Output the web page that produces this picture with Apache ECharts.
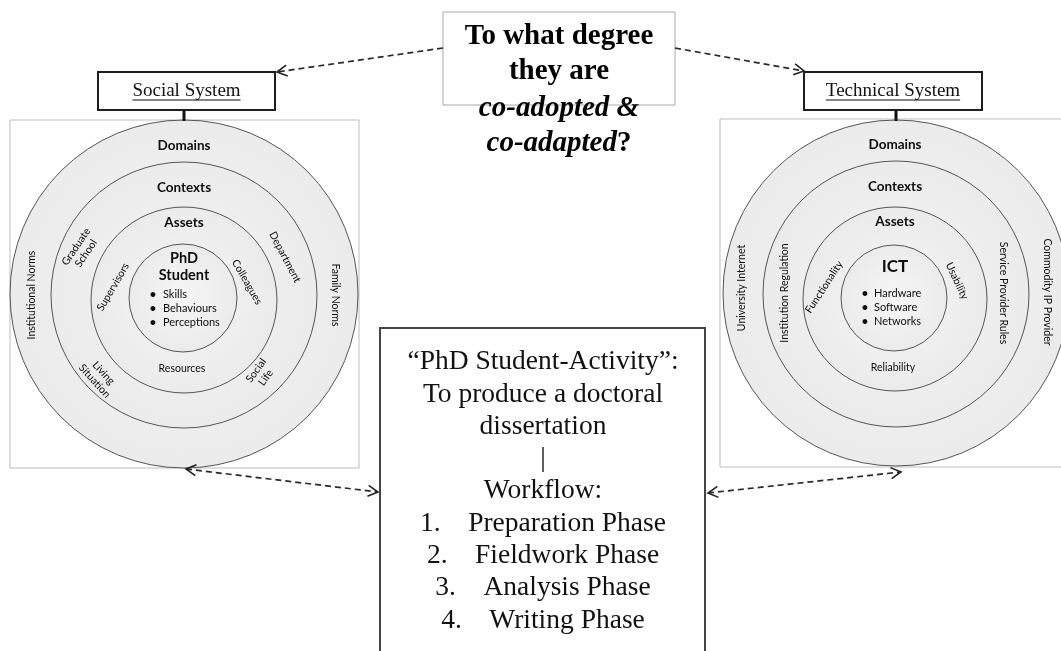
<!DOCTYPE html>
<html><head><meta charset="utf-8">
<script src="https://cdn.jsdelivr.net/npm/echarts@6/dist/echarts.min.js"></script>
<style>html,body{margin:0;padding:0;background:#fff}#c{width:1061px;height:651px}</style>
</head><body><div id="c"></div>
<script>
// ---------- content (texts only) ----------
const questionLines = ['To what degree', 'they are', 'co-adopted &', 'co-adapted'];
const questionMark = '?';
const socialTitle = 'Social System';
const technicalTitle = 'Technical System';
const ringNames = ['Domains', 'Contexts', 'Assets'];
const socialCore = ['PhD', 'Student'];
const socialBullets = ['Skills', 'Behaviours', 'Perceptions'];
const socialDomains = ['Institutional Norms', 'Family Norms'];
const socialContexts = ['Graduate\nSchool', 'Department', 'Living\nSituation', 'Social\nLife'];
const socialAssets = ['Supervisors', 'Colleagues', 'Resources'];
const techCore = ['ICT'];
const techBullets = ['Hardware', 'Software', 'Networks'];
const techDomains = ['University Internet', 'Commodity IP Provider'];
const techContexts = ['Institution Regulation', 'Service Provider Rules'];
const techAssets = ['Functionality', 'Usability', 'Reliability'];
const activityLines = ['\u201CPhD Student-Activity\u201D:', 'To produce a doctoral', 'dissertation', '|', 'Workflow:'];
const phaseNumbers = ['1.', '2.', '3.', '4.'];
const phaseNames = ['Preparation Phase', 'Fieldwork Phase', 'Analysis Phase', 'Writing Phase'];

// ---------- drawing ----------
const chart = echarts.init(document.getElementById('c'), null, {renderer: 'canvas'});
const els = [];
const SERIF = '"Liberation Serif", "Times New Roman", serif';
const SANS = 'Lato, "Open Sans", sans-serif';
const measure = (function () {
  const ctx = document.createElement('canvas').getContext('2d');
  return function (t, font) { ctx.font = font; return ctx.measureText(t).width; };
})();

function text(x, y, str, font, rot, extra) {
  els.push({
    type: 'text', x: x, y: y, rotation: (rot || 0) * Math.PI / 180, silent: true,
    style: Object.assign({text: str, x: 0, y: 0, font: font, fill: '#0d0d0d', align: 'center', verticalAlign: 'middle'}, extra || {})
  });
}
function rect(x, y, w, h, stroke, lw, fill) {
  els.push({type: 'rect', silent: true, shape: {x: x, y: y, width: w, height: h},
    style: {fill: fill || 'none', stroke: stroke, lineWidth: lw}});
}
function line(x1, y1, x2, y2, stroke, lw, dash) {
  els.push({type: 'line', silent: true, shape: {x1: x1, y1: y1, x2: x2, y2: y2},
    style: {stroke: stroke, lineWidth: lw, lineDash: dash || null}});
}
function head(tip, from) {
  const dx = tip[0] - from[0], dy = tip[1] - from[1], L = Math.hypot(dx, dy);
  const ux = dx / L, uy = dy / L, nx = -uy, ny = ux;
  els.push({type: 'polyline', silent: true, shape: {points: [
    [tip[0] - 10 * ux + 5.5 * nx, tip[1] - 10 * uy + 5.5 * ny], tip, [tip[0] - 10 * ux - 5.5 * nx, tip[1] - 10 * uy - 5.5 * ny]]},
    style: {stroke: '#222', lineWidth: 1.6, fill: 'none'}});
}
function arrow(a, b, headA, headB) {
  line(a[0], a[1], b[0], b[1], '#2a2a2a', 1.7, [6, 4]);
  if (headA) head(a, b);
  if (headB) head(b, a);
}
function rings(circles) {
  circles.forEach(function (c) {
    els.push({type: 'circle', silent: true, shape: {cx: c[0], cy: c[1], r: c[2]},
      style: {fill: new echarts.graphic.RadialGradient(0.5, 0.5, 0.5, [
        {offset: 0, color: '#f6f6f6'}, {offset: 1, color: '#ebebeb'}]),
        stroke: '#555', lineWidth: 1}});
  });
}
function titledBox(x, y, w, h, title) {
  rect(x, y, w, h, '#1e1e1e', 2, '#fff');
  const font = '19px ' + SERIF;
  const cx = x + w / 2, tw = measure(title, font);
  text(cx, y + 19, title, font, 0, {fill: '#111'});
  line(cx - tw / 2, y + 28, cx + tw / 2, y + 28, '#111', 1);
}

// frames
rect(10, 120, 349, 348, '#bdbdbd', 1, '#fff');
rect(720, 119, 360, 348, '#bdbdbd', 1, '#fff');

// circles
rings([[184, 294, 174], [184, 295, 133], [184, 300, 93], [183, 298, 54]]);
rings([[896, 293, 173], [896, 294, 133], [895, 299, 92], [894, 298, 53]]);

// system boxes + connectors
titledBox(98, 72, 177, 38, socialTitle);
titledBox(804, 72, 178, 38, technicalTitle);
line(184, 110, 184, 121, '#111', 3);
line(896, 110, 896, 121, '#111', 3);

// ring names
const ringFont = 'bold 13.5px ' + SANS;
const ringY = [[146, 188, 223], [145, 187, 222]];
[184, 895].forEach(function (cx, k) {
  ringNames.forEach(function (n, i) { text(cx, ringY[k][i], n, ringFont); });
});

// social core
text(184, 258, socialCore[0], 'bold 14.5px ' + SANS);
text(184, 275, socialCore[1], 'bold 14.5px ' + SANS);
socialBullets.forEach(function (b, i) {
  text(153, 294 + i * 14, '\u2022', 'bold 11px ' + SANS, 0, {align: 'center'});
  text(163, 294 + i * 14, b, '11px ' + SANS, 0, {align: 'left'});
});
// social labels
const lab = '10.5px ' + SANS;
const lab2 = {lineHeight: 12};
text(32, 295, socialDomains[0], lab, 90);
text(335, 295, socialDomains[1], lab, -90);
text(81, 250, socialContexts[0], lab, 56, lab2);
text(285, 257, socialContexts[1], lab, -62);
text(99, 377, socialContexts[2], lab, -48, lab2);
text(261, 374, socialContexts[3], lab, 54, lab2);
text(113, 287, socialAssets[0], lab, 60);
text(247, 282, socialAssets[1], lab, -60);
text(182, 369, socialAssets[2], lab);

// tech core
text(895, 267, techCore[0], 'bold 17px ' + SANS);
techBullets.forEach(function (b, i) {
  text(865, 293 + i * 14, '\u2022', 'bold 11px ' + SANS, 0, {align: 'center'});
  text(874, 293 + i * 14, b, '11px ' + SANS, 0, {align: 'left'});
});
text(742, 288, techDomains[0], lab, 90);
text(1047, 292, techDomains[1], lab, -90);
text(785, 293, techContexts[0], lab, 90);
text(1003, 293, techContexts[1], lab, -90);
text(824, 287, techAssets[0], lab, 57);
text(957, 281, techAssets[1], lab, -65);
text(893, 368, techAssets[2], lab);

// question box
rect(443, 12, 232, 93, '#a8a8a8', 1, '#fff');
const qx = 559, qy = [37, 72, 109, 144], qf = '29px ' + SERIF;
text(qx, qy[0], questionLines[0], 'bold ' + qf, 0, {fill: '#000'});
text(qx, qy[1], questionLines[1], 'bold ' + qf, 0, {fill: '#000'});
text(qx, qy[2], questionLines[2], 'italic bold ' + qf, 0, {fill: '#000'});
els.push({type: 'text', x: qx, y: qy[3], silent: true, style: {
  text: '{i|' + questionLines[3] + '}{b|' + questionMark + '}', x: 0, y: 0, align: 'center', verticalAlign: 'middle',
  rich: {i: {font: 'italic bold ' + qf, fill: '#000'}, b: {font: 'bold ' + qf, fill: '#000'}}}});

// activity box
rect(380, 328, 325, 340, '#444', 2, '#fff');
const ax = 543, ay0 = 362, step = 32.3, af = '27.5px ' + SERIF;
activityLines.forEach(function (t, i) { text(ax, ay0 + i * step, t, af, 0, {fill: '#111'}); });
phaseNumbers.forEach(function (n, i) {
  text(ax, ay0 + (activityLines.length + i) * step, n + '    ' + phaseNames[i], af, 0, {fill: '#111'});
});

// dashed arrows
arrow([443, 48], [277, 72], false, true);
arrow([675, 48], [804, 71], false, true);
arrow([186, 469], [378, 492], true, true);
arrow([708, 493], [901, 472], true, true);

chart.setOption({animation: false, graphic: {elements: els}});
</script></body></html>
